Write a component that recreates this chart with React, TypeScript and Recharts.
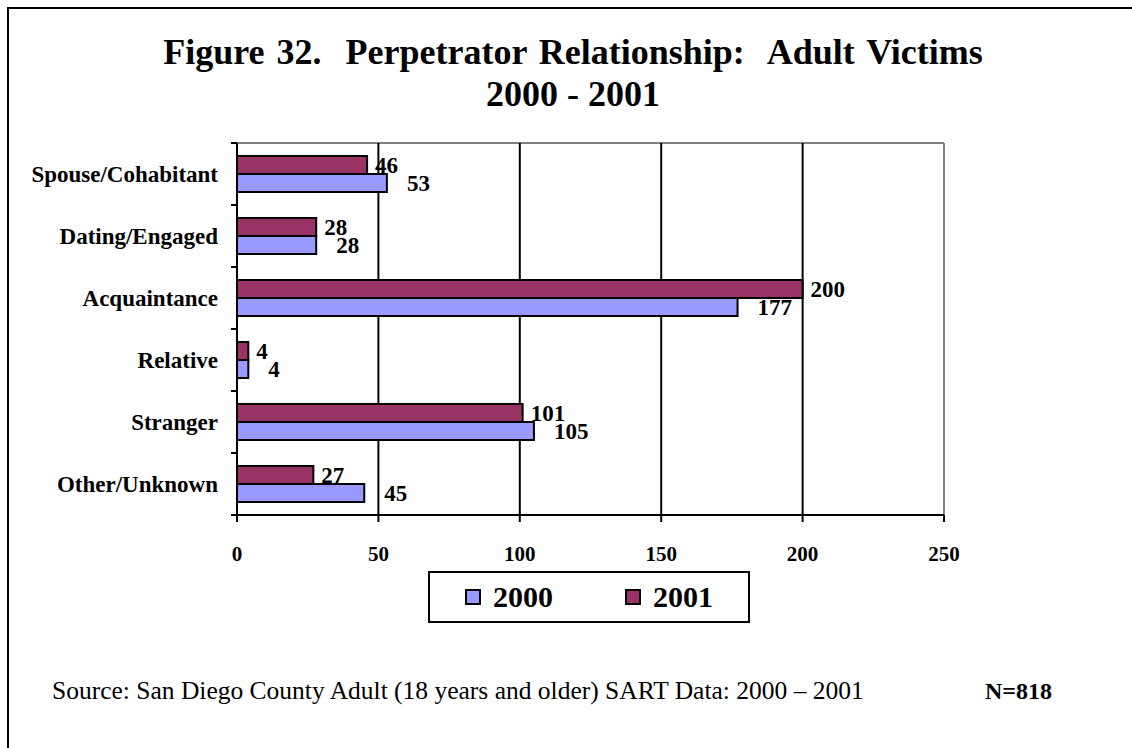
import React from 'react';
import { BarChart, Bar, XAxis, YAxis, CartesianGrid, LabelList } from 'recharts';

// values
const categories = ['Spouse/Cohabitant', 'Dating/Engaged', 'Acquaintance', 'Relative', 'Stranger', 'Other/Unknown'];
const victims2000 = [53, 28, 177, 4, 105, 45];
const victims2001 = [46, 28, 200, 4, 101, 27];
const xTicks = [0, 50, 100, 150, 200, 250];
const gridValues = [50, 100, 150, 200];
const legendYears = ['2000', '2001'];

const data = categories.map((name, i) => ({ name, y2000: victims2000[i], y2001: victims2001[i] }));

const SERIF = '"Liberation Serif", "Times New Roman", Times, serif';
const COLOR_2000 = '#9999FF';
const COLOR_2001 = '#993366';
const legendColors: Record<string, string> = { '2000': COLOR_2000, '2001': COLOR_2001 };

const CHART_W = 1132;
const CHART_H = 748;
const PLOT_LEFT = 237;
const PLOT_RIGHT = 944;
const PLOT_TOP = 143;
const PLOT_BOTTOM = 515;
const X_AXIS_H = 50;
const BAND = (PLOT_BOTTOM - PLOT_TOP) / categories.length;

// eslint-disable-next-line @typescript-eslint/no-explicit-any
const CategoryTick = (props: any) => {
  const { x, y, payload, index } = props;
  return (
    <g>
      <line x1={x - 6} x2={x} y1={y - BAND / 2} y2={y - BAND / 2} stroke="#000" strokeWidth={2} />
      {index === categories.length - 1 && (
        <line x1={x - 6} x2={x} y1={y + BAND / 2} y2={y + BAND / 2} stroke="#000" strokeWidth={2} />
      )}
      <text
        x={x - 19}
        y={y}
        dy="0.35em"
        textAnchor="end"
        fontFamily={SERIF}
        fontWeight="bold"
        fontSize={23}
        fill="#000"
      >
        {payload.value}
      </text>
    </g>
  );
};

// eslint-disable-next-line @typescript-eslint/no-explicit-any
const ValueTick = (props: any) => {
  const { x, y, payload } = props;
  return (
    <text x={x} y={y} dy="0.71em" textAnchor="middle" fontFamily={SERIF} fontWeight="bold" fontSize={21} fill="#000">
      {payload.value}
    </text>
  );
};

const makeValueLabel = (dx: number) => {
  // eslint-disable-next-line @typescript-eslint/no-explicit-any
  return (props: any) => {
    const { x, y, width, height, value } = props;
    return (
      <text
        x={Number(x) + Number(width) + dx}
        y={Number(y) + Number(height) / 2}
        dy="0.35em"
        textAnchor="start"
        fontFamily={SERIF}
        fontWeight="bold"
        fontSize={23}
        fill="#000"
      >
        {value}
      </text>
    );
  };
};

const App: React.FC = () => {
  return (
    <div
      style={{
        position: 'fixed',
        left: 0,
        top: 0,
        width: CHART_W,
        height: CHART_H,
        overflow: 'hidden',
        background: '#fff',
        fontFamily: SERIF,
        color: '#000'
      }}
    >
      <div style={{ position: 'absolute', left: 7, top: 7, width: 1200, height: 800, border: '2px solid #000' }} />

      <div
        style={{
          position: 'absolute',
          left: 0,
          top: 31,
          width: 1146,
          textAlign: 'center',
          fontSize: 36,
          fontWeight: 'bold',
          lineHeight: '42px',
          whiteSpace: 'pre'
        }}
      >
        <div style={{ wordSpacing: 3 }}>{'Figure 32.  Perpetrator Relationship:  Adult Victims'}</div>
        <div>{'2000 - 2001'}</div>
      </div>

      <div style={{ position: 'absolute', left: 0, top: 0 }}>
        <BarChart
          width={CHART_W}
          height={CHART_H}
          data={data}
          layout="vertical"
          barSize={18}
          barGap={0}
          margin={{ top: PLOT_TOP, right: CHART_W - PLOT_RIGHT, bottom: CHART_H - PLOT_BOTTOM - X_AXIS_H, left: 0 }}
        >
          {/* grey plot-area frame: top and right edges */}
          <CartesianGrid
            stroke="#808080"
            strokeWidth={2}
            horizontalCoordinatesGenerator={({ offset }) => [offset.top]}
            verticalCoordinatesGenerator={({ offset }) => [offset.left + offset.width]}
          />
          <CartesianGrid horizontal={false} verticalValues={gridValues} stroke="#000" strokeWidth={2} />
          <XAxis
            type="number"
            domain={[0, 250]}
            ticks={xTicks}
            interval={0}
            height={X_AXIS_H}
            tick={<ValueTick />}
            tickSize={7}
            tickMargin={24}
            tickLine={{ stroke: '#000', strokeWidth: 2 }}
            axisLine={{ stroke: '#000', strokeWidth: 2 }}
          />
          <YAxis
            type="category"
            dataKey="name"
            width={PLOT_LEFT}
            interval={0}
            tick={<CategoryTick />}
            tickSize={0}
            tickMargin={0}
            tickLine={false}
            axisLine={{ stroke: '#000', strokeWidth: 2 }}
          />
          <Bar dataKey="y2001" name="2001" fill={COLOR_2001} stroke="#000" strokeWidth={2} isAnimationActive={false}>
            <LabelList dataKey="y2001" content={makeValueLabel(8)} />
          </Bar>
          <Bar dataKey="y2000" name="2000" fill={COLOR_2000} stroke="#000" strokeWidth={2} isAnimationActive={false}>
            <LabelList dataKey="y2000" content={makeValueLabel(20)} />
          </Bar>
        </BarChart>
      </div>

      <div
        style={{
          position: 'absolute',
          left: 428,
          top: 571,
          width: 322,
          height: 52,
          boxSizing: 'border-box',
          border: '2px solid #000',
          display: 'flex',
          alignItems: 'center',
          justifyContent: 'center',
          gap: 72
        }}
      >
        {legendYears.map(year => (
          <div key={year} style={{ display: 'flex', alignItems: 'center', gap: 12 }}>
            <div
              style={{
                width: 16,
                height: 16,
                boxSizing: 'border-box',
                border: '2px solid #000',
                background: legendColors[year]
              }}
            />
            <span style={{ fontSize: 30, fontWeight: 'bold', lineHeight: 1 }}>{year}</span>
          </div>
        ))}
      </div>

      <div style={{ position: 'absolute', left: 52, top: 678, fontSize: 25.5, lineHeight: '26px', whiteSpace: 'pre' }}>
        Source: San Diego County Adult (18 years and older) SART Data: 2000 – 2001
      </div>
      <div style={{ position: 'absolute', left: 985, top: 679, fontSize: 24, lineHeight: '24px', fontWeight: 'bold' }}>
        N=818
      </div>
    </div>
  );
};

export default App;
